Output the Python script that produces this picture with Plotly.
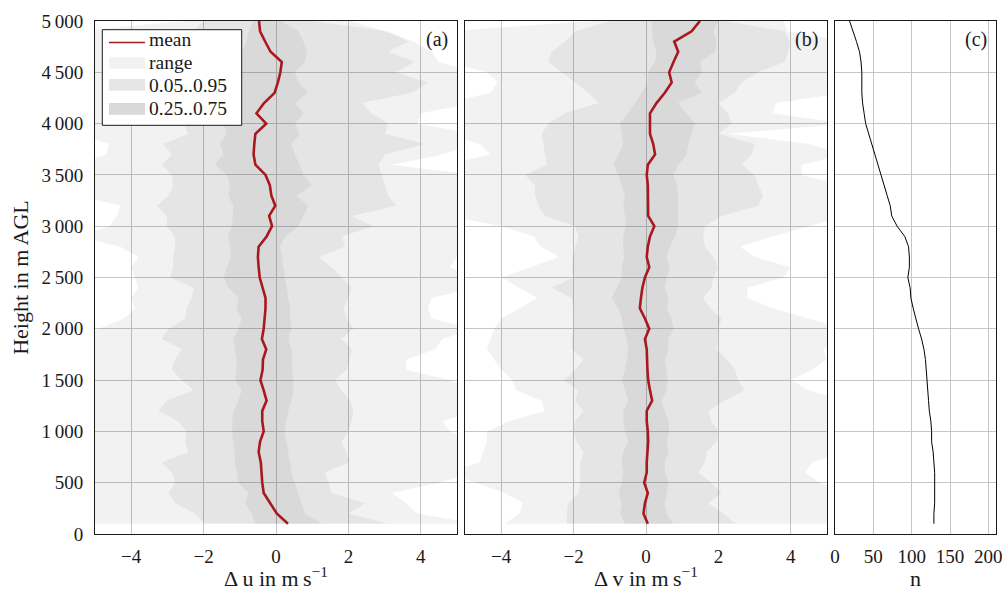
import plotly.graph_objects as go

# heights (m AGL), ascending 100 .. 5000
heights = list(range(100, 5001, 100))

# ---------------- panel (a): delta u ----------------
mean_u = [0.33, 0.02, -0.16, -0.34, -0.38, -0.39, -0.42, -0.48, -0.44, -0.34,
          -0.38, -0.38, -0.26, -0.34, -0.43, -0.37, -0.36, -0.27, -0.39, -0.34,
          -0.31, -0.29, -0.29, -0.37, -0.45, -0.48, -0.50, -0.48, -0.26, -0.11,
          -0.19, -0.02, -0.13, -0.17, -0.29, -0.57, -0.62, -0.60, -0.57, -0.27,
          -0.54, -0.33, -0.04, 0.05, 0.12, 0.16, -0.15, -0.30, -0.44, -0.47]
q25_u = [-0.58, -0.67, -0.86, -0.76, -1.04, -1.09, -1.13, -1.15, -1.18, -1.21,
         -1.21, -1.18, -1.04, -0.95, -1.13, -1.09, -1.09, -1.13, -1.18, -1.04,
         -0.95, -1.09, -1.04, -1.32, -1.45, -1.36, -1.24, -1.27, -1.32, -1.22,
         -1.21, -1.18, -1.32, -1.27, -1.36, -1.69, -1.45, -1.55, -1.36, -1.45,
         -1.27, -1.32, -1.22, -1.09, -1.13, -1.04, -0.95, -0.81, -0.76, -0.62]
q75_u = [1.26, 0.80, 0.71, 0.62, 0.52, 0.43, 0.39, 0.34, 0.29, 0.23,
         0.29, 0.34, 0.43, 0.48, 0.48, 0.45, 0.43, 0.43, 0.34, 0.43,
         0.39, 0.39, 0.34, 0.29, 0.25, 0.20, 0.16, 0.11, 0.25, 0.62,
         0.76, 0.89, 0.57, 0.99, 0.76, 0.66, 0.52, 0.43, 0.66, 0.52,
         0.76, 0.52, 0.89, 0.62, 0.52, 0.80, 0.85, 0.76, 0.62, 0.15]
q05_u = [-1.96, -2.24, -2.79, -2.97, -2.79, -2.88, -3.16, -2.42, -2.51, -2.47,
         -2.70, -3.25, -3.02, -2.28, -2.61, -2.88, -2.79, -2.61, -3.16, -2.97,
         -2.51, -2.47, -2.33, -2.28, -2.93, -2.84, -2.84, -2.79, -2.79, -3.02,
         -3.02, -3.30, -2.97, -2.84, -2.88, -3.16, -2.88, -3.11, -2.42, -2.56,
         -3.00, -2.80, -2.60, -2.90, -2.70, -2.80, -2.60, -2.40, -2.30, -2.00]
q95_u = [3.10, 2.00, 2.46, 1.54, 1.45, 1.35, 2.04, 1.95, 1.81, 2.00,
         2.09, 2.14, 2.04, 1.81, 1.63, 1.95, 2.04, 2.09, 1.81, 2.14,
         1.95, 1.86, 2.00, 2.09, 1.81, 1.54, 1.17, 1.91, 1.81, 2.69,
         2.09, 3.33, 3.10, 3.01, 2.92, 2.83, 3.01, 4.12, 3.01, 3.10,
         2.64, 2.37, 3.75, 4.21, 3.29, 3.84, 3.10, 3.66, 3.10, 1.00]
min_u = [-5.5, -5.5, -5.5, -5.5, -5.5, -5.5, -5.5, -5.5, -5.5, -5.5,
         -5.5, -5.5, -5.5, -5.5, -5.5, -5.5, -5.5, -5.5, -5.5, -4.9,
         -4.2, -3.9, -4.0, -3.8, -3.9, -4.0, -3.8, -4.3, -5.5, -4.6,
         -4.4, -4.3, -5.5, -5.5, -5.5, -5.5, -4.7, -4.6, -5.5, -5.5,
         -5.5, -5.5, -5.5, -5.5, -5.5, -5.5, -5.5, -5.5, -5.5, -2.55]
max_u = [5.5, 3.9, 3.6, 3.2, 4.5, 5.5, 5.5, 5.5, 5.5, 4.8,
         4.6, 5.5, 5.5, 5.5, 4.8, 3.6, 3.6, 4.4, 4.6, 5.5,
         4.3, 4.2, 4.3, 5.5, 5.5, 4.8, 5.0, 5.5, 5.5, 5.5,
         5.5, 5.5, 5.5, 5.5, 5.5, 3.2, 4.6, 5.5, 5.5, 3.9,
         4.0, 5.5, 5.5, 5.5, 5.5, 4.5, 4.3, 3.8, 3.0, 2.1]

# ---------------- panel (b): delta v ----------------
mean_v = [0.05, -0.07, -0.03, 0.05, -0.05, 0.02, 0.02, 0.04, 0.06, 0.05,
          0.02, 0.02, 0.17, 0.11, 0.06, 0.04, 0.02, 0.02, -0.03, 0.09,
          -0.03, -0.17, -0.14, -0.10, -0.03, 0.09, 0.02, 0.05, 0.11, 0.23,
          0.06, 0.06, 0.05, 0.05, 0.02, 0.05, 0.25, 0.20, 0.11, 0.11,
          0.11, 0.29, 0.52, 0.71, 0.64, 0.76, 0.89, 0.78, 1.26, 1.49]
q25_v = [-0.58, -0.72, -0.67, -0.76, -0.67, -0.63, -0.67, -0.63, -0.49, -0.58,
         -0.63, -0.63, -0.49, -0.58, -0.67, -0.58, -0.53, -0.49, -0.53, -0.63,
         -0.67, -0.76, -0.95, -0.81, -0.67, -0.67, -0.60, -0.63, -0.63, -0.56,
         -0.58, -0.63, -0.58, -0.67, -0.76, -0.90, -0.76, -0.63, -0.67, -0.72,
         -0.49, -0.30, -0.12, 0.04, 0.06, 0.25, 0.29, 0.20, 0.16, 0.16]
q75_v = [0.76, 0.57, 0.52, 0.57, 0.62, 0.52, 0.52, 0.62, 0.57, 0.64,
         0.62, 0.52, 0.43, 0.57, 0.60, 0.57, 0.52, 0.62, 0.62, 0.76,
         0.71, 0.57, 0.62, 0.52, 0.57, 0.66, 0.57, 0.66, 0.80, 0.89,
         0.89, 0.89, 0.89, 0.85, 0.76, 0.89, 1.12, 1.17, 1.26, 1.35,
         1.12, 0.89, 1.54, 1.35, 1.54, 1.49, 1.91, 1.95, 1.86, 2.00]
q05_v = [-2.19, -2.19, -2.15, -1.87, -1.82, -1.82, -1.82, -1.73, -1.92, -2.00,
         -1.96, -1.73, -1.96, -1.87, -2.28, -1.96, -1.73, -2.05, -2.05, -2.01,
         -2.01, -2.01, -2.05, -2.61, -2.01, -2.05, -2.01, -1.96, -1.87, -1.96,
         -2.79, -2.97, -3.07, -3.07, -3.34, -2.74, -2.79, -2.84, -2.88, -2.70,
         -2.24, -1.32, -1.59, -1.96, -2.33, -2.70, -2.61, -2.24, -1.96, -1.00]
q95_v = [2.46, 2.14, 1.72, 2.09, 1.81, 1.45, 1.63, 1.68, 1.95, 2.00,
         1.81, 1.72, 2.18, 2.73, 2.55, 2.46, 2.23, 1.95, 2.00, 2.00,
         2.09, 1.77, 1.58, 1.81, 1.86, 2.00, 1.86, 1.63, 1.58, 1.63,
         2.09, 3.10, 3.24, 3.10, 3.01, 2.64, 2.92, 3.00, 2.00, 2.37,
         2.27, 2.00, 2.46, 2.64, 3.10, 3.84, 3.93, 3.98, 3.84, 2.18]
min_v = [-3.9, -3.5, -3.4, -3.9, -4.7, -5.5, -4.6, -4.5, -4.4, -4.4,
         -3.8, -2.8, -2.9, -3.6, -3.7, -4.0, -4.2, -4.4, -4.3, -4.2,
         -4.0, -3.5, -3.0, -3.5, -4.0, -3.2, -2.4, -2.9, -3.1, -4.0,
         -5.5, -5.5, -5.5, -5.5, -5.5, -5.5, -4.3, -4.6, -5.5, -5.5,
         -5.5, -5.5, -4.3, -4.1, -4.4, -5.5, -5.5, -5.5, -5.5, -1.5]
max_v = [5.5, 5.5, 5.5, 5.5, 4.8, 4.4, 4.6, 5.5, 5.5, 5.5,
         5.5, 5.5, 5.5, 4.5, 4.0, 4.6, 5.0, 4.9, 5.5, 5.5,
         4.5, 3.5, 2.8, 2.8, 3.8, 4.0, 3.0, 2.6, 3.5, 4.5,
         5.5, 5.5, 5.5, 5.5, 4.3, 4.3, 5.5, 4.5, 2.3, 5.5,
         3.5, 3.6, 5.5, 5.5, 5.5, 5.5, 5.5, 5.5, 3.9, 3.8]

# ---------------- panel (c): number of samples ----------------
n_count = [129, 129, 130, 130, 130, 130, 129, 128, 126, 126,
           125, 123, 122, 121, 120, 119, 118, 116, 113, 109,
           105, 102, 99, 98, 95, 97, 97, 96, 91, 81,
           74, 72, 68, 64, 60, 56, 52, 48, 44, 40,
           38, 36, 35, 35, 35, 34, 32, 28, 24, 19]

# axis ticks
y_tickvals = list(range(0, 5001, 500))
y_ticktext = ["0", "500", "1\u2009000", "1\u2009500", "2\u2009000", "2\u2009500",
              "3\u2009000", "3\u2009500", "4\u2009000", "4\u2009500", "5\u2009000"]
uv_tickvals = [-4, -2, 0, 2, 4]
n_tickvals = [0, 50, 100, 150, 200]

legend_names = ["mean", "range", "0.05..0.95", "0.25..0.75"]
band_alpha = "rgba(0,0,0,0.052)"
legend_fills = ["#f2f2f2", "#e6e6e6", "#d9d9d9"]
mean_color = "#a8191f"
FONT = "Liberation Serif"
INK = "#1a1a1a"

# page geometry (pixels)
W, H = 1004, 591
ML, MR, MT, MB = 95, 8, 21, 57
PW, PH = W - ML - MR, H - MT - MB


def px(xp):
    return (xp - ML) / PW


def py(yp):
    return 1 - (yp - MT) / PH


fig = go.Figure()


def add_bands(xa, ya, lo_hi_pairs):
    for lo, hi in lo_hi_pairs:
        fig.add_trace(go.Scatter(
            x=lo + hi[::-1], y=heights + heights[::-1],
            fill="toself", fillcolor=band_alpha, mode="lines",
            line=dict(width=0), hoverinfo="skip", showlegend=False,
            xaxis=xa, yaxis=ya))


add_bands("x", "y", [(min_u, max_u), (q05_u, q95_u), (q25_u, q75_u)])
fig.add_trace(go.Scatter(x=mean_u, y=heights, mode="lines", name="mean",
                         line=dict(color=mean_color, width=2.6),
                         showlegend=False, xaxis="x", yaxis="y"))
add_bands("x2", "y2", [(min_v, max_v), (q05_v, q95_v), (q25_v, q75_v)])
fig.add_trace(go.Scatter(x=mean_v, y=heights, mode="lines", name="mean",
                         line=dict(color=mean_color, width=2.6),
                         showlegend=False, xaxis="x2", yaxis="y2"))
fig.add_trace(go.Scatter(x=n_count, y=heights, mode="lines", name="n",
                         line=dict(color="black", width=1),
                         showlegend=False, xaxis="x3", yaxis="y3"))

# ---- legend box (panel a, top left) ----
shapes = [dict(type="rect", xref="paper", yref="paper", layer="above",
               x0=px(102.3), x1=px(241.7), y0=py(125.3), y1=py(29.7),
               fillcolor="white", line=dict(color=INK, width=1)),
          dict(type="line", xref="paper", yref="paper", layer="above",
               x0=px(109), x1=px(145), y0=py(42.5), y1=py(42.5),
               line=dict(color=mean_color, width=1.6))]
swatch_rows = [(57.3, 68.7), (79.0, 90.7), (103.0, 114.7)]
for (ya, yb), col in zip(swatch_rows, legend_fills):
    shapes.append(dict(type="rect", xref="paper", yref="paper", layer="above",
                       x0=px(109), x1=px(145), y0=py(yb), y1=py(ya),
                       fillcolor=col, line=dict(width=0)))
text_rows = [40.0, 62.5, 85.5, 108.5]
annotations = []
for nm, yc in zip(legend_names, text_rows):
    annotations.append(dict(x=px(148), y=py(yc), xref="paper", yref="paper",
                            text=nm, showarrow=False, xanchor="left",
                            yanchor="middle", borderpad=0,
                            font=dict(family=FONT, size=19.5, color=INK)))
for xr, yr, lab in [("x domain", "y domain", "(a)"),
                    ("x2 domain", "y2 domain", "(b)"),
                    ("x3 domain", "y3 domain", "(c)")]:
    annotations.append(dict(x=1, y=1, xref=xr, yref=yr, text=lab,
                            showarrow=False, xanchor="right", yanchor="top",
                            xshift=-7, yshift=-5,
                            font=dict(family=FONT, size=20, color=INK)))

grid = "#c6c6c6"
tick_font = dict(family=FONT, size=19, color=INK)
title_font = dict(family=FONT, size=22, color=INK)
common_x = dict(showgrid=True, gridcolor=grid, gridwidth=1, zeroline=False,
                showline=True, mirror=True, linecolor=INK, linewidth=1,
                ticks="", ticklabelstandoff=5, tickfont=tick_font,
                automargin=False)
common_y = dict(range=[0, 5000], tickvals=y_tickvals, showgrid=True,
                gridcolor=grid, gridwidth=1, zeroline=False, showline=True,
                mirror=True, linecolor=INK, linewidth=1, ticks="",
                automargin=False)

fig.update_layout(
    width=W, height=H,
    margin=dict(l=ML, r=MR, t=MT, b=MB),
    paper_bgcolor="white", plot_bgcolor="white",
    font=dict(family=FONT, size=18, color=INK),
    xaxis=dict(domain=[0, 0.4018], range=[-5, 5], tickvals=uv_tickvals,
               title=dict(text="\u0394 u in m\u2009s<sup>\u22121</sup>",
                          font=title_font, standoff=2),
               anchor="y", **common_x),
    xaxis2=dict(domain=[0.4107, 0.8124], range=[-5, 5], tickvals=uv_tickvals,
                title=dict(text="\u0394 v in m\u2009s<sup>\u22121</sup>",
                           font=title_font, standoff=2),
                anchor="y2", **common_x),
    xaxis3=dict(domain=[0.8213, 1.0], range=[0, 210], tickvals=n_tickvals,
                title=dict(text="n", font=title_font, standoff=2),
                anchor="y3", **common_x),
    yaxis=dict(anchor="x", ticktext=y_ticktext, ticklabelstandoff=7,
               tickfont=tick_font,
               title=dict(text="Height in m AGL", font=title_font, standoff=6),
               **common_y),
    yaxis2=dict(anchor="x2", matches="y", showticklabels=False, **common_y),
    yaxis3=dict(anchor="x3", matches="y", showticklabels=False, **common_y),
    showlegend=False,
    shapes=shapes,
    annotations=annotations,
)

fig.write_html("out.html")
